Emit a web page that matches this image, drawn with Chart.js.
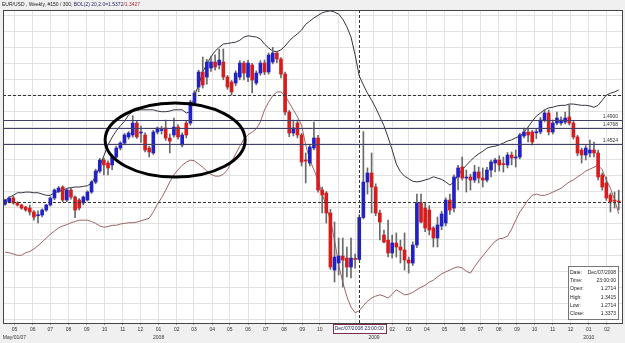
<!DOCTYPE html>
<html>
<head>
<meta charset="utf-8">
<script src="https://cdn.jsdelivr.net/npm/chart.js@4.4.0/dist/chart.umd.min.js"></script>
<style>
  html, body { margin: 0; padding: 0; background: #f0f0f0; }
  canvas { display: block; }
</style>
</head>
<body>
<canvas id="chart" width="625" height="343"></canvas>
<script>
// EUR/USD weekly candles, first bar = week of Apr 15 2007
const firstWeek = Date.UTC(2007, 3, 15);

const opens = [
  1.3580, 1.3615, 1.3678, 1.3600, 1.3568, 1.3536, 1.3520, 1.3458, 1.3400, 1.3411,
  1.3489, 1.3568, 1.3677, 1.3780, 1.3850, 1.3646, 1.3803, 1.3693, 1.3646, 1.3600,
  1.3646, 1.3772, 1.3928, 1.4100, 1.4273, 1.4226, 1.4195, 1.4320, 1.4461, 1.4539,
  1.4634, 1.4665, 1.4853, 1.4696, 1.4665, 1.4461, 1.4383, 1.4712, 1.4735, 1.4774,
  1.4617, 1.4665, 1.4790, 1.4508, 1.4853, 1.4853, 1.5166, 1.5417, 1.5652, 1.5573,
  1.5715, 1.5809, 1.5762, 1.5809, 1.5573, 1.5495, 1.5480, 1.5573, 1.5793, 1.5573,
  1.5762, 1.5480, 1.5636, 1.5793, 1.5652, 1.5809, 1.5950, 1.5856, 1.5620, 1.5025,
  1.4696, 1.4853, 1.4665, 1.4273, 1.4226, 1.4461, 1.4618, 1.3803, 1.3756, 1.3443,
  1.2549, 1.2659, 1.2769, 1.2737, 1.2596, 1.2722, 1.2714, 1.3373, 1.3928, 1.4069,
  1.3850, 1.3443, 1.3098, 1.3019, 1.2816, 1.2973, 1.2910, 1.2863, 1.2706, 1.2659,
  1.2941, 1.3599, 1.3521, 1.3490, 1.3208, 1.3051, 1.3239, 1.3286, 1.3646, 1.3520,
  1.4007, 1.4164, 1.3991, 1.4007, 1.3959, 1.4085, 1.3991, 1.3959, 1.4116, 1.4226,
  1.4273, 1.4210, 1.4195, 1.4352, 1.4305, 1.4320, 1.4650, 1.4712, 1.4712, 1.4700,
  1.4712, 1.4900, 1.5010, 1.4712, 1.4853, 1.4853, 1.4869, 1.4947, 1.4853, 1.4634,
  1.4430, 1.4352, 1.4383, 1.4430, 1.4383, 1.4038, 1.3913, 1.3724, 1.3640, 1.3630
];
const highs = [
  1.3660, 1.3700, 1.3705, 1.3620, 1.3580, 1.3550, 1.3568, 1.3480, 1.3475, 1.3510,
  1.3580, 1.3700, 1.3820, 1.3860, 1.3870, 1.3830, 1.3840, 1.3710, 1.3670, 1.3710,
  1.3790, 1.3950, 1.4130, 1.4300, 1.4300, 1.4260, 1.4350, 1.4490, 1.4560, 1.4690,
  1.4720, 1.4967, 1.4890, 1.4805, 1.4700, 1.4490, 1.4740, 1.4790, 1.4800, 1.4900,
  1.4680, 1.4930, 1.4830, 1.4700, 1.4880, 1.5210, 1.5360, 1.5680, 1.5887, 1.5850,
  1.5900, 1.5920, 1.6010, 1.6013, 1.5600, 1.5520, 1.5670, 1.5830, 1.5820, 1.5840,
  1.5790, 1.5670, 1.5830, 1.5840, 1.5950, 1.6038, 1.5980, 1.5880, 1.5650, 1.5050,
  1.4900, 1.4900, 1.4690, 1.4383, 1.4510, 1.4869, 1.4660, 1.3850, 1.3780, 1.3500,
  1.3302, 1.3050, 1.3050, 1.2910, 1.3050, 1.2800, 1.3415, 1.4719, 1.4150, 1.4383,
  1.3900, 1.3490, 1.3176, 1.3333, 1.3098, 1.3130, 1.3019, 1.3130, 1.2753, 1.2990,
  1.3740, 1.3740, 1.3600, 1.3560, 1.3230, 1.3380, 1.3470, 1.3680, 1.3740, 1.4040,
  1.4190, 1.4320, 1.4116, 1.4050, 1.4190, 1.4164, 1.4148, 1.4160, 1.4273, 1.4300,
  1.4340, 1.4320, 1.4390, 1.4400, 1.4430, 1.4690, 1.4775, 1.4775, 1.4740, 1.4770,
  1.4940, 1.5056, 1.5056, 1.4900, 1.5025, 1.4950, 1.5025, 1.5135, 1.4890, 1.4660,
  1.4460, 1.4500, 1.4586, 1.4555, 1.4430, 1.4070, 1.4007, 1.3756, 1.3772, 1.3800
];
const lows = [
  1.3560, 1.3600, 1.3580, 1.3550, 1.3500, 1.3470, 1.3410, 1.3330, 1.3286, 1.3380,
  1.3470, 1.3550, 1.3650, 1.3760, 1.3620, 1.3620, 1.3660, 1.3370, 1.3490, 1.3570,
  1.3630, 1.3750, 1.3900, 1.4070, 1.4040, 1.4040, 1.4120, 1.4300, 1.4430, 1.4510,
  1.4600, 1.4630, 1.4610, 1.4550, 1.4400, 1.4320, 1.4360, 1.4680, 1.4680, 1.4580,
  1.4383, 1.4630, 1.4600, 1.4480, 1.4620, 1.4820, 1.5140, 1.5340, 1.5400, 1.5460,
  1.5660, 1.5680, 1.5700, 1.5530, 1.5380, 1.5290, 1.5440, 1.5530, 1.5530, 1.5500,
  1.5323, 1.5450, 1.5600, 1.5610, 1.5620, 1.5780, 1.5800, 1.5560, 1.4980, 1.4640,
  1.4650, 1.4620, 1.4180, 1.3913, 1.4180, 1.4430, 1.3770, 1.3443, 1.3286, 1.2560,
  1.2361, 1.2471, 1.2283, 1.2440, 1.2424, 1.2580, 1.2714, 1.3350, 1.3740, 1.3443,
  1.3400, 1.3019, 1.2973, 1.2753, 1.2737, 1.2753, 1.2659, 1.2549, 1.2502, 1.2620,
  1.2900, 1.3286, 1.3150, 1.3100, 1.2910, 1.2910, 1.3180, 1.3240, 1.3420, 1.3460,
  1.3803, 1.3960, 1.3771, 1.3803, 1.3920, 1.3913, 1.3850, 1.3930, 1.4007, 1.4085,
  1.4100, 1.4085, 1.4150, 1.4195, 1.4164, 1.4290, 1.4620, 1.4555, 1.4508, 1.4610,
  1.4680, 1.4870, 1.4665, 1.4680, 1.4822, 1.4820, 1.4840, 1.4822, 1.4600, 1.4340,
  1.4226, 1.4273, 1.4320, 1.4320, 1.3960, 1.3800, 1.3640, 1.3458, 1.3520, 1.3490
];
const closes = [
  1.3646, 1.3678, 1.3600, 1.3568, 1.3520, 1.3490, 1.3458, 1.3380, 1.3405, 1.3489,
  1.3568, 1.3677, 1.3803, 1.3834, 1.3646, 1.3803, 1.3693, 1.3489, 1.3520, 1.3693,
  1.3772, 1.3928, 1.4100, 1.4273, 1.4195, 1.4148, 1.4320, 1.4461, 1.4539, 1.4665,
  1.4696, 1.4853, 1.4634, 1.4710, 1.4430, 1.4398, 1.4712, 1.4774, 1.4745, 1.4617,
  1.4570, 1.4790, 1.4634, 1.4665, 1.4665, 1.5182, 1.5323, 1.5652, 1.5448, 1.5809,
  1.5809, 1.5730, 1.5840, 1.5573, 1.5417, 1.5340, 1.5636, 1.5793, 1.5636, 1.5793,
  1.5526, 1.5636, 1.5793, 1.5652, 1.5918, 1.5950, 1.5856, 1.5620, 1.5025, 1.4696,
  1.4775, 1.4665, 1.4242, 1.4258, 1.4477, 1.4618, 1.3803, 1.3725, 1.3443, 1.2596,
  1.2753, 1.2769, 1.2706, 1.2596, 1.2737, 1.2714, 1.3373, 1.3928, 1.4069, 1.3850,
  1.3443, 1.3301, 1.2988, 1.2816, 1.2973, 1.2910, 1.2863, 1.2706, 1.2659, 1.2941,
  1.3599, 1.3301, 1.3208, 1.3176, 1.3051, 1.3255, 1.3427, 1.3646, 1.3489, 1.4007,
  1.4148, 1.3991, 1.4003, 1.3959, 1.4085, 1.3991, 1.3959, 1.4116, 1.4242, 1.4273,
  1.4195, 1.4200, 1.4352, 1.4305, 1.4320, 1.4665, 1.4712, 1.4665, 1.4555, 1.4712,
  1.4900, 1.5010, 1.4712, 1.4853, 1.4931, 1.4900, 1.4931, 1.4853, 1.4634, 1.4383,
  1.4352, 1.4461, 1.4430, 1.4383, 1.4007, 1.3850, 1.3678, 1.3615, 1.3630, 1.3615
];

// Bollinger bands (20, 2.0) as drawn
const bollUpper = [
  1.363, 1.369, 1.372, 1.376, 1.376, 1.377, 1.377, 1.376, 1.376, 1.374,
  1.372, 1.372, 1.376, 1.378, 1.380, 1.383, 1.384, 1.385, 1.385, 1.386,
  1.387, 1.391, 1.402, 1.418, 1.434, 1.451, 1.463, 1.473, 1.481, 1.488,
  1.498, 1.503, 1.505, 1.506, 1.506, 1.506, 1.506, 1.504, 1.503, 1.503,
  1.504, 1.506, 1.506, 1.506, 1.501, 1.503, 1.528, 1.545, 1.565, 1.578,
  1.589, 1.598, 1.604, 1.609, 1.610, 1.611, 1.612, 1.615, 1.620, 1.622,
  1.621, 1.620, 1.617, 1.609, 1.603, 1.598, 1.597, 1.600, 1.606, 1.614,
  1.620, 1.625, 1.631, 1.640, 1.645, 1.650, 1.654, 1.658, 1.660, 1.661,
  1.659, 1.656, 1.648, 1.636, 1.620, 1.592, 1.559, 1.545, 1.532, 1.521,
  1.509, 1.495, 1.481, 1.463, 1.443, 1.421, 1.409, 1.402, 1.398, 1.394,
  1.393, 1.394, 1.396, 1.398, 1.401, 1.399, 1.397, 1.393, 1.388, 1.393,
  1.404, 1.412, 1.419, 1.426, 1.432, 1.437, 1.441, 1.446, 1.448, 1.449,
  1.451, 1.454, 1.457, 1.459, 1.462, 1.465, 1.471, 1.479, 1.488, 1.496,
  1.501, 1.506, 1.509, 1.510, 1.512, 1.513, 1.513, 1.515, 1.515, 1.514,
  1.513, 1.513, 1.512, 1.510, 1.513, 1.521, 1.529, 1.532, 1.534, 1.537
];
const bollLower = [
  1.283, 1.282, 1.280, 1.278, 1.278, 1.282, 1.284, 1.288, 1.293, 1.299,
  1.305, 1.311, 1.316, 1.321, 1.324, 1.326, 1.329, 1.331, 1.333, 1.333,
  1.333, 1.331, 1.328, 1.324, 1.322, 1.323, 1.325, 1.325, 1.327, 1.328,
  1.329, 1.329, 1.330, 1.332, 1.334, 1.336, 1.346, 1.358, 1.368, 1.380,
  1.393, 1.404, 1.412, 1.419, 1.424, 1.427, 1.426, 1.421, 1.416, 1.410,
  1.405, 1.402, 1.402, 1.405, 1.412, 1.424, 1.437, 1.449, 1.460, 1.467,
  1.471, 1.476, 1.487, 1.506, 1.518, 1.528, 1.534, 1.534, 1.528, 1.517,
  1.506, 1.495, 1.482, 1.451, 1.427, 1.412, 1.396, 1.374, 1.355, 1.333,
  1.302, 1.263, 1.236, 1.213, 1.197, 1.188, 1.191, 1.199, 1.206, 1.211,
  1.214, 1.216, 1.214, 1.211, 1.217, 1.224, 1.220, 1.216, 1.217, 1.220,
  1.224, 1.228, 1.231, 1.236, 1.239, 1.244, 1.249, 1.252, 1.255, 1.258,
  1.260, 1.258, 1.253, 1.250, 1.260, 1.269, 1.277, 1.285, 1.293, 1.300,
  1.304, 1.305, 1.308, 1.319, 1.333, 1.346, 1.355, 1.365, 1.372, 1.374,
  1.372, 1.372, 1.374, 1.377, 1.380, 1.383, 1.388, 1.393, 1.396, 1.401,
  1.405, 1.410, 1.413, 1.416, 1.419, 1.412, 1.396, 1.383, 1.365, 1.343
];

// horizontal levels drawn on the chart
const levels = [1.4900, 1.4768, 1.4524];
const dashedLevels = [1.5290, 1.3615];
const crossWeek = 86;
const crossLabel = 'Dec/07/2008 23:00:00';
const infoRows = [
  ['Date:', 'Dec/07/2008'], ['Time:', '23:00:00'], ['Open:', '1.2714'],
  ['High:', '1.3415'], ['Low:', '1.2714'], ['Close:', '1.3373']
];
const titleParts = [
  ['EUR/USD , Weekly, #150 / 300, ', '#222222'],
  ['BOL(2) 20,2.0=1.5372', '#262670'],
  ['/1.3427', '#b03030']
];
// hand drawn ellipse, in weeks / price
const ellipse = { week: 41.3, price: 1.4586, weeks: 17, range: 0.058 };
const yearLabels = { '2007-4': 'May/01/07', '2008-0': '2008', '2009-0': '2009', '2010-0': '2010' };

const WEEK = 7 * 86400000;
const monthTicks = [];
for (let yr = 2007, m = 4; yr < 2010 || m <= 1; ) {
  const mm = String(m + 1).padStart(2, '0');
  const extra = yearLabels[yr + '-' + m];
  monthTicks.push({ value: (Date.UTC(yr, m, 1) - firstWeek) / WEEK, label: extra ? [mm, extra] : mm });
  m++;
  if (m > 11) { m = 0; yr++; }
}
const gridBase = 1.178, gridStep = 0.025;

const BLUE = '#2222c4', RED = '#d41e1e';
const FONT = '"Liberation Sans", Arial, sans-serif';
const crisp = v => Math.round(v) + 0.5;

const overlay = {
  id: 'overlay',
  beforeDraw(chart) {
    const { ctx, chartArea: a } = chart;
    ctx.save();
    ctx.fillStyle = '#f0f0f0';
    ctx.fillRect(0, 0, chart.width, chart.height);
    ctx.fillStyle = '#ffffff';
    ctx.fillRect(a.left, a.top, a.right - a.left, a.bottom - a.top);
    ctx.restore();
  },
  afterDatasetsDraw(chart) {
    const { ctx, chartArea: a, scales: { x, y } } = chart;
    ctx.save();
    ctx.beginPath();
    ctx.rect(a.left, a.top, a.right - a.left, a.bottom - a.top);
    ctx.clip();

    ctx.lineWidth = 1;
    ctx.strokeStyle = '#40406e';
    ctx.fillStyle = '#333';
    ctx.font = '5px ' + FONT;
    ctx.textAlign = 'right';
    ctx.textBaseline = 'bottom';
    levels.forEach(p => {
      const py = crisp(y.getPixelForValue(p));
      ctx.beginPath(); ctx.moveTo(a.left, py); ctx.lineTo(a.right, py); ctx.stroke();
      ctx.fillText(p.toFixed(4), a.right - 4, py - 1);
    });

    ctx.setLineDash([3, 2]);
    ctx.strokeStyle = '#333';
    dashedLevels.forEach(p => {
      const py = crisp(y.getPixelForValue(p));
      ctx.beginPath(); ctx.moveTo(a.left, py); ctx.lineTo(a.right, py); ctx.stroke();
    });
    const cx = crisp(x.getPixelForValue(crossWeek));
    ctx.beginPath(); ctx.moveTo(cx, a.top); ctx.lineTo(cx, a.bottom); ctx.stroke();
    ctx.setLineDash([]);

    const ex = x.getPixelForValue(ellipse.week), ey = y.getPixelForValue(ellipse.price);
    const rx = x.getPixelForValue(ellipse.week + ellipse.weeks) - ex;
    const ry = ey - y.getPixelForValue(ellipse.price + ellipse.range);
    ctx.lineWidth = 3;
    ctx.strokeStyle = '#000';
    ctx.beginPath(); ctx.ellipse(ex, ey, rx, ry, 0, 0, Math.PI * 2); ctx.stroke();
    ctx.restore();
  },
  afterDraw(chart) {
    const { ctx, chartArea: a, scales: { x } } = chart;
    ctx.save();
    // frame
    ctx.strokeStyle = '#444';
    ctx.lineWidth = 1;
    ctx.strokeRect(crisp(a.left), crisp(a.top), Math.round(a.right - a.left), Math.round(a.bottom - a.top));

    // title
    ctx.font = '5px ' + FONT;
    ctx.textBaseline = 'middle';
    ctx.textAlign = 'left';
    let tx = 2;
    titleParts.forEach(([t, c]) => {
      ctx.fillStyle = c;
      ctx.fillText(t, tx, 4.5);
      tx += ctx.measureText(t).width;
    });

    // crosshair time label
    const cx = x.getPixelForValue(crossWeek);
    const w = ctx.measureText(crossLabel).width + 4;
    ctx.fillStyle = '#fff';
    ctx.fillRect(Math.round(cx - w / 2), Math.round(a.bottom) + 1, Math.round(w), 9);
    ctx.strokeStyle = '#7a3050';
    ctx.strokeRect(crisp(cx - w / 2), Math.round(a.bottom) + 1.5, Math.round(w), 9);
    ctx.fillStyle = '#20206a';
    ctx.textAlign = 'center';
    ctx.fillText(crossLabel, cx, a.bottom + 6);

    // data window
    const bx = Math.round(a.right) - 54, by = Math.round(a.bottom) - 57, bw = 50, bh = 53;
    ctx.fillStyle = '#fff';
    ctx.fillRect(bx, by, bw, bh);
    ctx.strokeStyle = '#777';
    ctx.strokeRect(bx + 0.5, by + 0.5, bw, bh);
    ctx.fillStyle = '#222';
    infoRows.forEach(([k, v], i) => {
      const ry = by + 6.5 + i * 8.3;
      ctx.textAlign = 'left';
      ctx.fillText(k, bx + 2, ry);
      ctx.textAlign = 'right';
      ctx.fillText(v, bx + bw - 2, ry);
    });
    ctx.restore();
  }
};

new Chart(document.getElementById('chart'), {
  type: 'bar',
  data: {
    datasets: [
      {
        label: 'body',
        data: opens.map((o, i) => ({ x: i, y: [o, closes[i]] })),
        backgroundColor: ctx => closes[ctx.dataIndex] >= opens[ctx.dataIndex] ? BLUE : RED,
        barThickness: 3,
        minBarLength: 1,
        grouped: false
      },
      {
        label: 'wick',
        data: lows.map((l, i) => ({ x: i, y: [l, highs[i]] })),
        backgroundColor: '#6a6a6a',
        barThickness: 1,
        grouped: false
      },
      {
        type: 'line',
        label: 'upper',
        data: bollUpper.map((v, i) => ({ x: i, y: v })),
        borderColor: '#34343f',
        borderWidth: 1,
        pointRadius: 0,
        tension: 0
      },
      {
        type: 'line',
        label: 'lower',
        data: bollLower.map((v, i) => ({ x: i, y: v })),
        borderColor: '#9c6464',
        borderWidth: 1,
        pointRadius: 0,
        tension: 0
      }
    ]
  },
  options: {
    responsive: false,
    animation: false,
    layout: { padding: { left: 3, right: 3, top: 10, bottom: 0 } },
    plugins: { legend: { display: false }, tooltip: { enabled: false } },
    scales: {
      x: {
        type: 'linear',
        min: -0.5,
        max: 149.8,
        offset: false,
        afterFit: s => { s.height = 20; },
        afterBuildTicks: s => { s.ticks = monthTicks.map(t => ({ value: t.value })); },
        ticks: {
          autoSkip: false,
          maxRotation: 0,
          padding: 0,
          color: '#333',
          font: { size: 5, family: FONT, lineHeight: 1.7 },
          callback: (v, i) => monthTicks[i].label
        },
        grid: { color: '#e2e2e2', offset: false, tickLength: 2, tickColor: '#999' },
        border: { display: false }
      },
      y: {
        type: 'linear',
        position: 'right',
        min: 1.1719,
        max: 1.6624,
        afterFit: s => { s.width = 0; },
        afterBuildTicks: s => {
          const t = [];
          for (let v = gridBase; v <= s.max; v += gridStep) t.push({ value: v });
          s.ticks = t;
        },
        ticks: { display: false },
        grid: { color: '#e2e2e2', drawTicks: false },
        border: { display: false }
      }
    }
  },
  plugins: [overlay]
});
</script>
</body>
</html>
